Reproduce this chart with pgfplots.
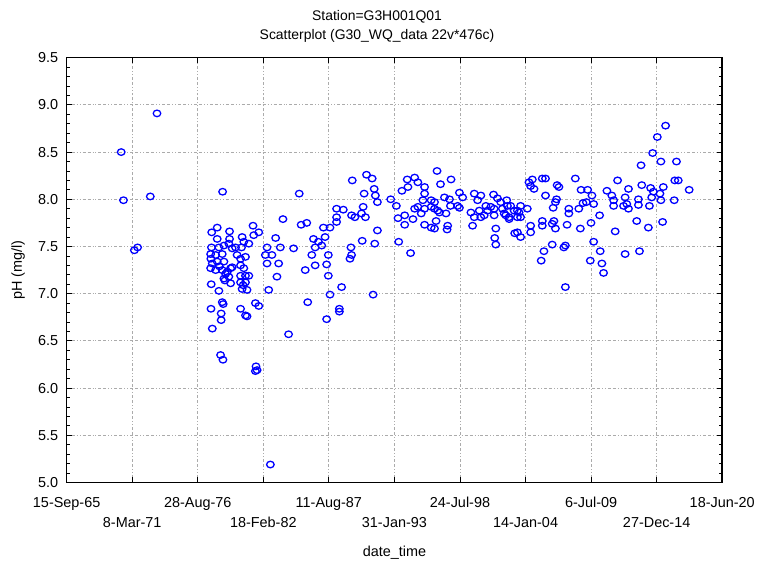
\documentclass[border=0pt]{standalone}
\usepackage{fontspec}
\setmainfont{Liberation Sans}
\usepackage{pgfplots}
\usepackage{pgfplotstable}
\pgfplotsset{compat=1.18}
\pgfplotstableread{
year pH
1970.26 8.50
1970.45 7.99
1972.69 8.03
1973.25 8.91
1971.63 7.49
1971.36 7.46
1978.28 7.70
1977.82 7.65
1978.28 7.58
1979.31 7.66
1979.31 7.58
1980.36 7.60
1980.50 7.55
1980.92 7.53
1981.27 7.72
1981.75 7.65
1981.33 7.62
1983.16 7.59
1983.77 7.79
1984.66 7.48
1977.80 7.49
1978.42 7.49
1978.84 7.51
1979.53 7.48
1980.31 7.49
1982.44 7.49
1983.55 7.49
1979.25 7.53
1979.81 7.49
1978.73 8.08
1977.73 7.42
1978.15 7.41
1978.70 7.42
1977.87 7.32
1978.28 7.34
1978.84 7.34
1977.73 7.27
1978.15 7.25
1978.70 7.25
1979.11 7.23
1979.53 7.28
1980.23 7.37
1980.64 7.39
1980.23 7.30
1980.50 7.27
1980.23 7.19
1980.64 7.19
1980.92 7.19
1980.23 7.12
1980.64 7.12
1980.77 7.04
1980.36 7.05
1978.84 7.16
1979.40 7.11
1982.30 7.41
1982.85 7.41
1982.44 7.32
1983.41 7.32
1983.27 7.18
1982.58 7.04
1977.78 7.10
1978.42 7.03
1978.70 6.91
1978.78 6.89
1977.76 6.84
1978.61 6.79
1978.61 6.72
1977.87 6.63
1980.23 6.84
1980.64 6.77
1980.77 6.76
1981.47 6.90
1981.75 6.87
1978.56 6.35
1978.76 6.30
1981.52 6.23
1981.61 6.19
1981.47 6.18
1984.24 6.57
1982.72 5.19
1977.75 7.37
1978.92 7.14
1979.25 7.18
1979.94 7.41
1979.40 7.27
1978.98 7.21
1980.44 7.09
1978.46 7.29
1985.13 8.06
1985.29 7.73
1985.76 7.75
1985.63 7.25
1986.18 7.41
1986.46 7.30
1985.84 6.91
1986.32 7.58
1986.73 7.55
1987.15 7.70
1987.70 7.70
1986.46 7.49
1987.01 7.51
1987.29 7.60
1987.56 7.41
1987.42 7.31
1987.56 7.19
1987.70 6.99
1988.67 7.07
1988.48 6.84
1988.48 6.81
1987.42 6.73
1991.30 6.99
1988.25 7.90
1988.81 7.89
1988.25 7.76
1988.25 7.81
1989.56 8.20
1990.75 8.26
1991.22 8.22
1990.55 8.06
1991.39 8.11
1991.49 8.04
1991.66 7.97
1990.47 7.92
1990.33 7.85
1990.66 7.81
1989.50 7.83
1989.78 7.81
1989.45 7.49
1989.50 7.41
1989.37 7.37
1990.39 7.56
1991.44 7.53
1991.66 7.67
1992.77 8.00
1993.24 7.93
1993.38 7.80
1993.44 7.55
1994.43 7.43
1993.71 8.09
1994.15 8.21
1994.77 8.23
1994.21 8.13
1995.04 8.18
1995.60 8.13
1995.60 8.06
1996.15 7.99
1995.46 7.99
1996.43 7.97
1996.64 8.30
1996.93 8.16
1997.81 8.21
1997.26 8.02
1997.68 8.00
1998.36 7.93
1998.51 8.07
1998.78 8.02
1999.75 8.06
2000.03 7.99
1993.94 7.83
1994.63 7.79
1993.94 7.73
1994.77 7.90
1995.04 7.92
1995.32 7.85
1995.60 7.90
1996.15 7.92
1996.43 7.90
1996.70 7.88
1996.84 7.86
1997.39 7.85
1997.76 7.93
1995.60 7.73
1996.15 7.70
1996.43 7.69
1996.56 7.77
1997.53 7.72
1997.48 7.68
1998.51 7.91
1999.47 7.86
1999.75 7.81
1999.61 7.72
2000.17 7.88
2000.30 7.81
2000.58 7.83
2000.86 7.88
2001.13 7.92
2001.36 8.05
2001.69 8.01
2002.46 7.99
2002.79 7.93
2003.08 7.88
2003.35 7.88
2000.72 7.93
2001.41 7.90
2000.30 8.04
2001.41 7.83
2002.38 7.83
2002.66 7.81
2001.55 7.69
2001.46 7.59
2001.55 7.52
2003.13 7.64
2015.73 8.78
2015.04 8.66
2014.65 8.49
2015.34 8.40
2016.64 8.40
2013.68 8.36
2016.50 8.20
2016.79 8.20
2017.70 8.10
2015.54 8.13
2013.74 8.15
2014.48 8.12
2014.71 8.08
2014.57 8.02
2015.34 7.99
2016.45 7.99
2015.26 8.06
2013.46 8.00
2013.46 7.94
2014.38 7.93
2014.29 7.70
2013.32 7.77
2015.48 7.76
2013.55 7.45
2012.63 8.11
2012.35 8.02
2012.49 7.95
2012.63 7.90
2012.22 7.93
2011.39 7.93
2011.39 7.99
2011.24 8.04
2010.83 8.09
2011.52 7.66
2011.72 8.20
2012.35 7.42
2010.22 7.83
2009.72 7.95
2009.58 8.04
2009.72 7.55
2010.27 7.45
2009.44 7.35
2010.41 7.32
2010.55 7.22
2009.50 7.75
2008.19 8.22
2008.67 8.10
2009.22 8.10
2008.83 7.96
2009.11 7.97
2008.61 7.69
2007.50 7.73
2008.48 7.90
2007.65 7.90
2007.65 7.85
2007.36 7.51
2007.23 7.49
2007.36 7.07
2006.82 8.13
2006.67 8.15
2006.62 8.00
2006.53 7.97
2006.34 7.91
2006.40 7.77
2006.26 7.74
2006.53 7.69
2006.26 7.52
2005.57 7.45
2005.34 7.35
2005.70 8.04
2005.43 8.22
2005.70 8.22
2004.60 8.21
2004.32 8.18
2004.74 8.11
2004.46 8.14
2004.18 7.90
2003.62 7.93
2003.49 7.86
2003.35 7.81
2003.62 7.81
2002.66 7.79
2002.25 7.85
2002.10 7.90
2002.52 7.93
2001.96 7.97
2004.46 7.72
2004.46 7.65
2005.43 7.77
2005.43 7.72
2003.35 7.65
2003.62 7.60
}\phdata
\begin{document}
\begin{tikzpicture}
\path (-67pt,-82pt) rectangle (691pt,485pt);
\begin{axis}[
  at={(0pt,0pt)}, anchor=south west,
  scale only axis, width=659pt, height=427pt,
  xmin=1965.704, xmax=2020.460, ymin=5, ymax=9.5,
  xtick={1965.704,1971.180,1976.655,1982.131,1987.607,1993.082,1998.558,2004.034,2009.509,2014.985,2020.460},
  xticklabels={15-Sep-65,\raisebox{-20pt}{8-Mar-71},28-Aug-76,\raisebox{-20pt}{18-Feb-82},11-Aug-87,\raisebox{-20pt}{31-Jan-93},24-Jul-98,\raisebox{-20pt}{14-Jan-04},6-Jul-09,\raisebox{-20pt}{27-Dec-14},18-Jun-20},
  minor x tick num=1,
  ytick={5,5.5,...,9.5},
  minor y tick num=4,
  grid=major,
  major grid style={color=black!33, line width=0.8pt, dash pattern=on 3pt off 2pt on 3pt off 2pt on 1pt off 2pt on 1pt off 2pt},
  tick align=inside,
  major tick length=5pt, minor tick length=3pt,
  every tick/.style={black, line width=0.8pt},
  axis line style={line width=1.5pt},
  xticklabel style={font=\fontsize{14.5}{17}\selectfont, text height=11pt, yshift=-11pt},
  yticklabel style={font=\fontsize{14.5}{17}\selectfont, xshift=-5pt, /pgf/number format/.cd, fixed, fixed zerofill, precision=1},
  /pgf/number format/assume math mode=true,
  clip=false,
]
\addplot[only marks, mark=o, mark size=3.3pt, color=blue, mark options={line width=1.3pt, xscale=1.15}] table[x=year, y=pH] {\phdata};
\end{axis}
\node[anchor=base, font=\fontsize{14}{17}\selectfont] at (312pt,464pt) {Station=G3H001Q01};
\node[anchor=base, font=\fontsize{14}{17}\selectfont] at (312pt,445.5pt) {Scatterplot (G30\_WQ\_data 22v*476c)};
\node[anchor=base, font=\fontsize{14.5}{17}\selectfont] at (329.5pt,-74pt) {date\_time};
\node[anchor=base, rotate=90, font=\fontsize{14.5}{17}\selectfont] at (-45pt,213.5pt) {pH (mg/l)};
\end{tikzpicture}
\end{document}
